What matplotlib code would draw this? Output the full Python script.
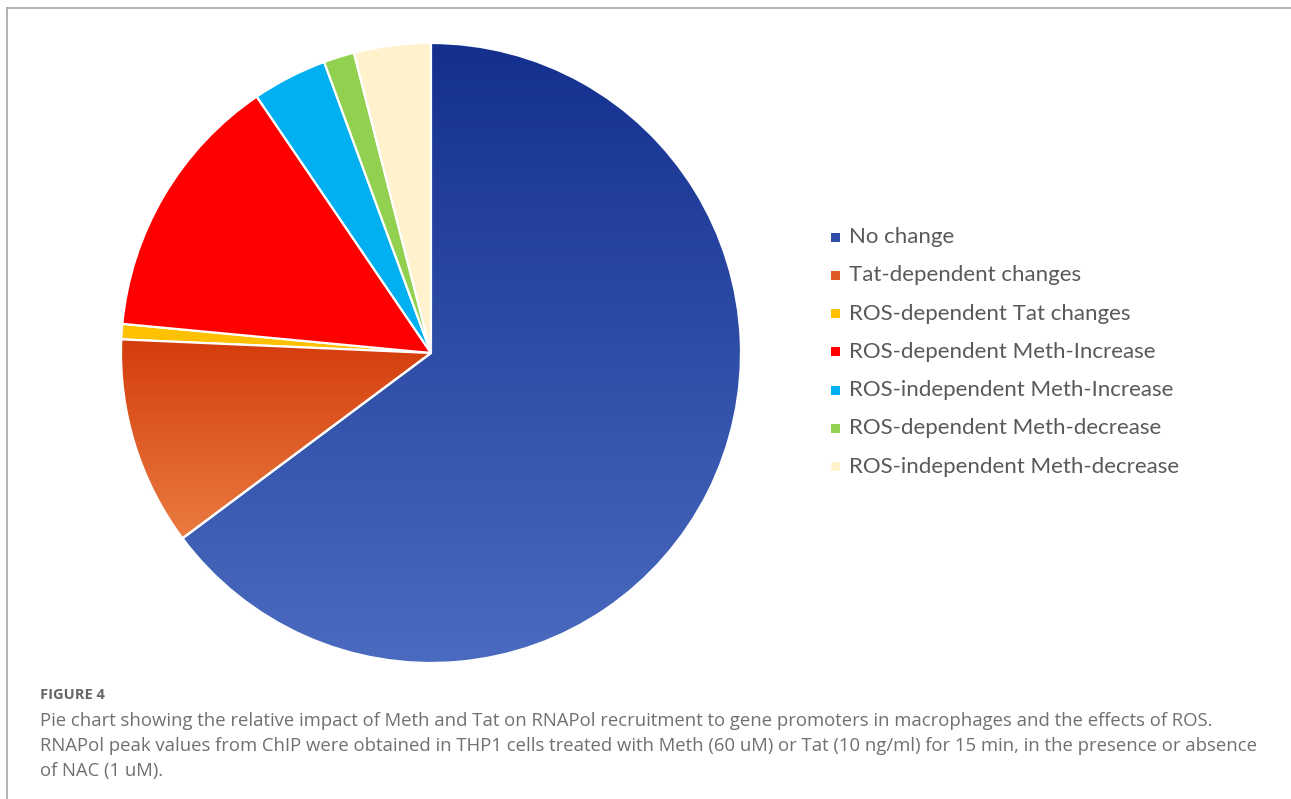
import numpy as np
import matplotlib
matplotlib.use("Agg")
import matplotlib.pyplot as plt
from matplotlib.colors import LinearSegmentedColormap
from matplotlib.patches import Rectangle
from matplotlib.lines import Line2D

categories = [
    "No change",
    "Tat-dependent changes",
    "ROS-dependent Tat changes",
    "ROS-dependent Meth-Increase",
    "ROS-independent Meth-Increase",
    "ROS-dependent Meth-decrease",
    "ROS-independent Meth-decrease",
]
shares = [64.8, 10.9, 0.8, 14.0, 3.9, 1.6, 4.0]
# (top colour, bottom colour) of each slice's vertical gradient
top_colors = ["#13308f", "#d43c0c", "#ffc000", "#ff0000", "#00b0f0", "#92d050", "#fff2cc"]
bottom_colors = ["#4a6bbf", "#e97b40", "#ffc000", "#ff0000", "#00b0f0", "#92d050", "#fff2cc"]

caption_title = "FIGURE 4"
caption_lines = [
    "Pie chart showing the relative impact of Meth and Tat on RNAPol recruitment to gene promoters in macrophages and the effects of ROS.",
    "RNAPol peak values from ChIP were obtained in THP1 cells treated with Meth (60 uM) or Tat (10 ng/ml) for 15 min, in the presence or absence",
    "of NAC (1 uM).",
]

W, H = 1291, 799
fig = plt.figure(figsize=(W / 100, H / 100), dpi=100)

# pie axes: centre (431, 353) px, radius 310 px
cx, cy, r = 431, 353, 310
ax = fig.add_axes([(cx - r - 4) / W, (H - cy - r - 4) / H, (2 * r + 8) / W, (2 * r + 8) / H])
ax.set_aspect("equal")
ax.axis("off")

wedges, _ = ax.pie(shares, startangle=90, counterclock=False, radius=1.0,
                   colors=bottom_colors,
                   wedgeprops=dict(edgecolor="white", linewidth=1.6))
lim = 1.0 + 8 / (2 * r)

# fill each slice with a vertical gradient clipped to the wedge
for w, c0, c1 in zip(wedges, top_colors, bottom_colors):
    if c0 == c1:
        continue
    pts = w.get_patch_transform().transform(w.get_path().vertices)
    x0, x1 = pts[:, 0].min(), pts[:, 0].max()
    y0, y1 = pts[:, 1].min(), pts[:, 1].max()
    cmap = LinearSegmentedColormap.from_list("g", [c1, c0])
    grad = np.linspace(0, 1, 256).reshape(-1, 1)
    im = ax.imshow(grad, cmap=cmap, extent=[x0, x1, y0, y1], origin="lower",
                   aspect="auto", zorder=w.get_zorder() + 0.1, interpolation="bilinear")
    im.set_clip_path(w)
    w.set_facecolor("none")
    w.set_zorder(w.get_zorder() + 0.2)
ax.set_xlim(-lim, lim)
ax.set_ylim(-lim, lim)

# legend
leg_font = "Lato"
y_first, step = 237, 38.3
for i, (lab, c0, c1) in enumerate(zip(categories, top_colors, bottom_colors)):
    yy = y_first + i * step
    mid = tuple((np.array(matplotlib.colors.to_rgb(c0)) + np.array(matplotlib.colors.to_rgb(c1))) / 2)
    fig.patches.append(Rectangle((831 / W, (H - yy - 4.5) / H), 9 / W, 9 / H,
                                 transform=fig.transFigure, facecolor=mid, edgecolor="none"))
    fig.text(849 / W, (H - yy) / H, lab, fontsize=16, color="#595959",
             family=leg_font, va="center", ha="left")

# frame lines (top and left)
fig.add_artist(Line2D([7 / W, 1.0], [(H - 8) / H, (H - 8) / H], transform=fig.transFigure,
                      color="#a6a6a6", linewidth=1.2))
fig.add_artist(Line2D([7 / W, 7 / W], [0.0, (H - 8) / H], transform=fig.transFigure,
                      color="#a6a6a6", linewidth=1.2))

# caption
fig.text(40 / W, (H - 695) / H, caption_title, fontsize=10.5, fontweight="bold",
         color="#666666", family="Open Sans", va="center")
for i, line in enumerate(caption_lines):
    fig.text(40 / W, (H - 721 - i * 25) / H, line, fontsize=13.3, color="#707070",
             family="Open Sans", va="center")

fig.savefig("out.png", dpi=100, facecolor="white")
